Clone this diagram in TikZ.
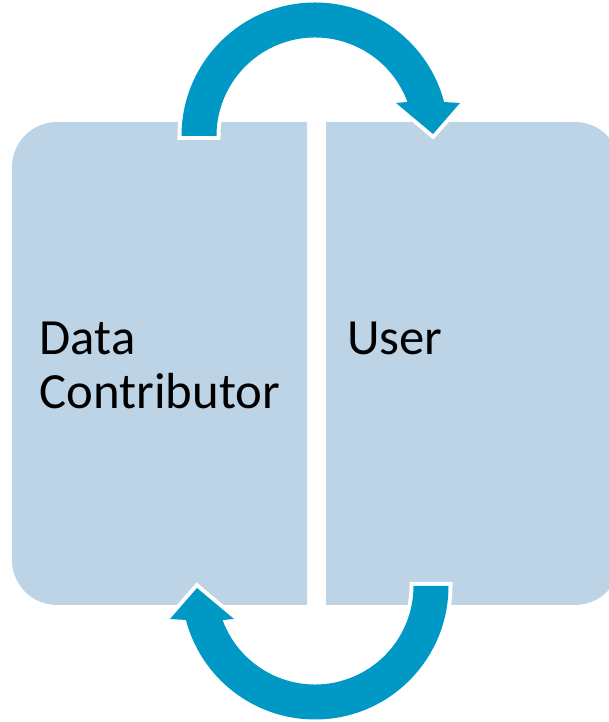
\documentclass[tikz,border=0pt]{standalone}
\usepackage{fontspec}
\setmainfont{Carlito}
\definecolor{boxfill}{RGB}{188,212,230}
\definecolor{cyclearrow}{RGB}{0,153,198}
% curved arrow around the origin: shaft starts at the left, head ends on the right
\newcommand{\turnpath}{%
  (180:133.5) arc[start angle=180, end angle=14.75, radius=133.5]
  -- (145,33) -- (118,2) -- (81,33)
  -- (20.2:98.5) arc[start angle=20.2, end angle=180, radius=98.5] -- cycle}
\begin{document}
\begin{tikzpicture}[x=1pt,y=1pt,
  panel/.style={fill=boxfill},
  turn/.style={fill=cyclearrow, preaction={draw=white, line width=8pt, line join=miter}},
  label/.style={anchor=base west, inner sep=0pt, align=left,
    font=\fontsize{50.7}{54}\selectfont}]
\useasboundingbox (0,0) rectangle (609,722);
% left panel, rounded on the outer side
\fill[panel] (307,117) -- (57,117) arc[start angle=270, end angle=180, radius=45]
  -- (12,555) arc[start angle=180, end angle=90, radius=45] -- (307,600) -- cycle;
% right panel, rounded on the outer side
\fill[panel] (326,117) -- (575,117) arc[start angle=-90, end angle=0, radius=45]
  -- (620,555) arc[start angle=0, end angle=90, radius=45] -- (326,600) -- cycle;
% cycle arrows
\begin{scope}[shift={(315,586)}]
  \path[turn] \turnpath;
\end{scope}
\begin{scope}[shift={(315,136)}, rotate=180]
  \path[turn] \turnpath;
\end{scope}
% the base anchor of a two-line node sits on its last line
\node[label] (contributor) at (39.5,313) {Data\\Contributor};
\node[label] (user) at (347,367) {User};
\end{tikzpicture}
\end{document}
